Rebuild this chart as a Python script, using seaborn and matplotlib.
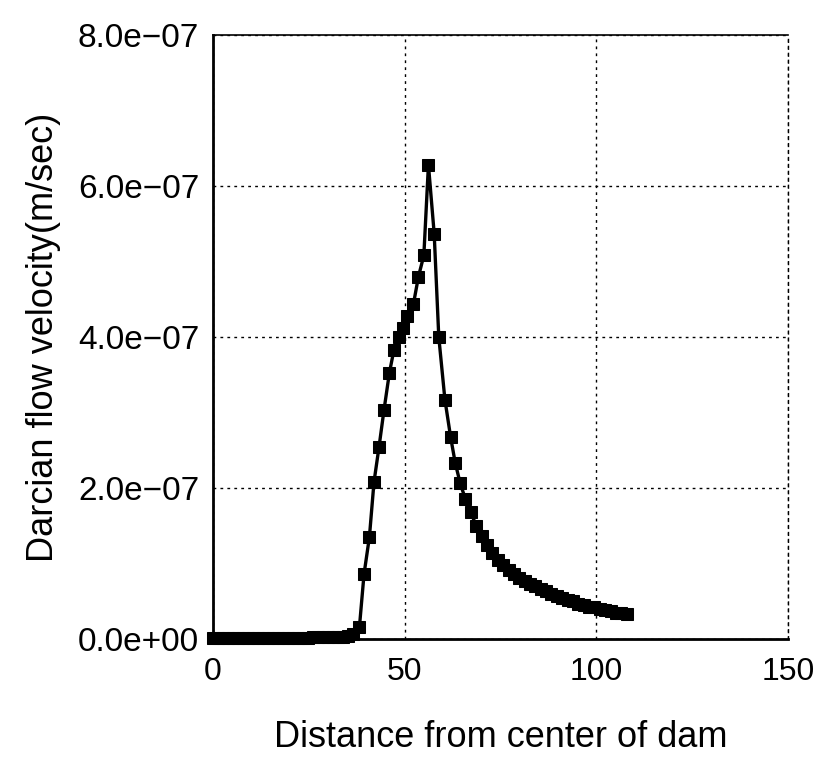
import matplotlib
matplotlib.use("Agg")
import matplotlib.pyplot as plt
from matplotlib.ticker import FuncFormatter
import seaborn as sns
import pandas as pd

# Distance from center of dam (m)
distance = [
    0.0, 1.3, 2.6, 3.9, 5.2, 6.5, 7.8, 9.1, 10.4, 11.7, 13.0, 14.3, 15.6, 16.9,
    18.2, 19.5, 20.8, 22.1, 23.4, 24.7, 26.0, 27.3, 28.6, 29.9, 31.2, 32.5,
    33.8, 35.1, 36.5,
    38.2, 39.4, 40.8, 42.0, 43.3, 44.6, 46.0, 47.2, 48.5, 49.6, 50.6, 52.3,
    53.6, 55.0, 56.2, 57.7, 58.9, 60.5, 62.0, 63.2, 64.5, 65.8, 67.2,
    68.7, 70.1, 71.5, 72.9, 74.3, 75.7, 77.1, 78.5, 79.9, 81.3, 82.7, 84.1,
    85.5, 86.9, 88.3, 89.7, 91.1, 92.5, 93.9, 95.3, 96.7, 98.1, 99.5, 100.9,
    102.3, 103.7, 105.1, 106.5, 107.9,
]
# Darcian flow velocity, in units of 1e-7 m/sec
velocity_e7 = [
    0.01, 0.01, 0.01, 0.01, 0.01, 0.01, 0.01, 0.01, 0.01, 0.01, 0.01, 0.01, 0.01, 0.01,
    0.01, 0.01, 0.01, 0.01, 0.01, 0.01, 0.02, 0.02, 0.02, 0.02, 0.02, 0.03,
    0.03, 0.04, 0.07,
    0.16, 0.86, 1.35, 2.08, 2.54, 3.03, 3.52, 3.83, 4.00, 4.12, 4.28, 4.44,
    4.80, 5.08, 6.28, 5.37, 4.00, 3.17, 2.67, 2.33, 2.06, 1.86, 1.68,
    1.50, 1.36, 1.24, 1.14, 1.05, 0.98, 0.92, 0.86, 0.81, 0.77, 0.73, 0.70,
    0.66, 0.63, 0.60, 0.57, 0.54, 0.52, 0.50, 0.47, 0.45, 0.43, 0.42, 0.40,
    0.38, 0.37, 0.35, 0.34, 0.33,
]

x_ticks = [0, 50, 100, 150]
y_ticks = [0.0, 2.0e-7, 4.0e-7, 6.0e-7, 8.0e-7]

df = pd.DataFrame({"distance": distance,
                   "velocity": [v * 1e-7 for v in velocity_e7]})

sns.set_style("white")
plt.rcParams["font.family"] = ["Liberation Sans", "DejaVu Sans"]

fig = plt.figure(figsize=(8.18, 7.62), dpi=100)
ax = fig.add_axes([213 / 818, 1 - 639 / 762, (788 - 213) / 818, (639 - 35) / 762])

sns.lineplot(data=df, x="distance", y="velocity", ax=ax, color="black",
             linewidth=2.4, marker="s", markersize=8.5, markeredgecolor="black",
             markerfacecolor="black", sort=False, clip_on=False, zorder=3)

ax.set_xlim(0, 150)
ax.set_ylim(0, 8.0e-7)
ax.set_xticks(x_ticks)
ax.set_yticks(y_ticks)
ax.xaxis.set_major_formatter(FuncFormatter(lambda v, p: f"{v:.0f}"))
ax.yaxis.set_major_formatter(
    FuncFormatter(lambda v, p: f"{v:.1e}".replace("-", "\u2212")))

ax.grid(True, color="black", linestyle=(0, (2, 3)), linewidth=1)
for s in ["left", "bottom"]:
    ax.spines[s].set_linewidth(2)
    ax.spines[s].set_color("black")
ax.spines["top"].set_linewidth(1.2)
ax.spines["top"].set_color("black")
ax.spines["right"].set_color("black")
ax.spines["right"].set_linewidth(1)
ax.spines["right"].set_linestyle((0, (2, 3)))

ax.tick_params(axis="both", direction="out", length=9, width=1.5,
               color="black", labelcolor="black")
ax.tick_params(axis="x", labelsize=23, pad=4)
ax.tick_params(axis="y", labelsize=24, pad=1)

ax.set_xlabel("Distance from center of dam", fontsize=26, labelpad=24,
              color="black")
ax.set_ylabel("Darcian flow velocity(m/sec)", fontsize=26, labelpad=12,
              color="black")

fig.savefig("out.png", dpi=100, facecolor="white")
